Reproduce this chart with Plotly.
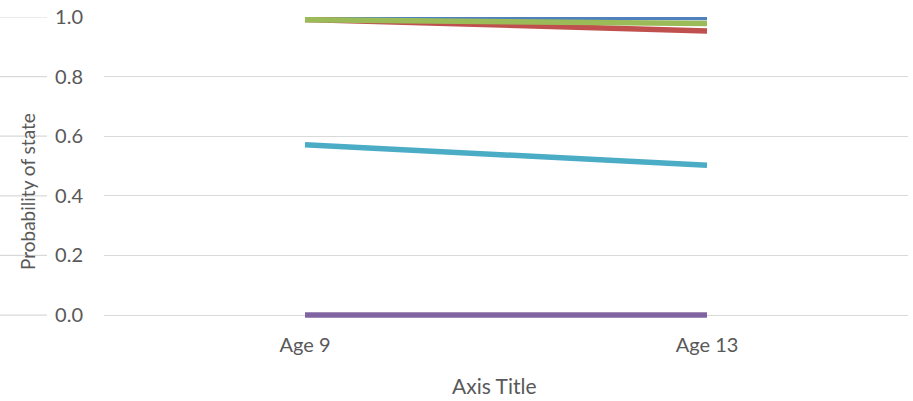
import plotly.graph_objects as go

# Probability of each state at the two measurement ages
ages = ["Age 9", "Age 13"]
series_names = ["State 1", "State 2", "State 3", "State 4", "State 5"]
state_1 = [1.000, 0.998]
state_2 = [0.992, 0.953]
state_3 = [0.991, 0.978]
state_4 = [0.000, 0.000]
state_5 = [0.571, 0.503]
series_values = [state_1, state_2, state_3, state_4, state_5]
series_colors = ["#4F81BD", "#C0504D", "#9BBB59", "#8064A2", "#4BACC6"]

y_ticks = [0.0, 0.2, 0.4, 0.6, 0.8, 1.0]

FONT = "Lato, 'Open Sans', sans-serif"
TEXT_GREY = "#595959"
GRID = "#D9D9D9"

fig = go.Figure()
for name, vals, col in zip(series_names, series_values, series_colors):
    fig.add_trace(go.Scatter(
        x=ages, y=vals, name=name, mode="lines",
        line=dict(color=col, width=5.5),
        showlegend=False,
    ))

# short gridline stubs to the left of the value labels
for v in y_ticks:
    fig.add_shape(type="line", xref="paper", yref="y",
                  x0=-104 / 804, x1=-57 / 804, y0=v, y1=v,
                  line=dict(color=GRID, width=1.2), layer="below")

fig.update_layout(
    width=913, height=401,
    margin=dict(l=104, r=5, t=17, b=80),
    paper_bgcolor="white", plot_bgcolor="white",
    font=dict(family=FONT, color=TEXT_GREY, size=20),
    xaxis=dict(
        type="category", range=[-0.5, 1.5],
        showgrid=False, zeroline=False, showline=False,
        ticks="", ticklabelstandoff=10,
        tickfont=dict(size=20, color=TEXT_GREY),
    ),
    yaxis=dict(
        range=[-0.02, 1.0], tickvals=y_ticks,
        ticktext=[f"{v:.1f}" for v in y_ticks],
        showgrid=True, gridcolor=GRID, gridwidth=1.2,
        zeroline=False, showline=False,
        ticks="", ticklabelstandoff=20,
        tickfont=dict(size=20, color=TEXT_GREY),
    ),
    annotations=[
        dict(text="Axis Title", xref="paper", yref="paper",
             x=(494 - 104) / 804, y=(321 - 385) / 304,
             xanchor="center", yanchor="middle", showarrow=False,
             font=dict(size=21, color=TEXT_GREY, family=FONT)),
        dict(text="Probability of state", xref="paper", yref="paper",
             x=(28 - 104) / 804, y=(321 - 192) / 304, textangle=-90,
             xanchor="center", yanchor="middle", showarrow=False,
             font=dict(size=19, color=TEXT_GREY, family=FONT)),
    ],
)

fig.write_html("out.html")
